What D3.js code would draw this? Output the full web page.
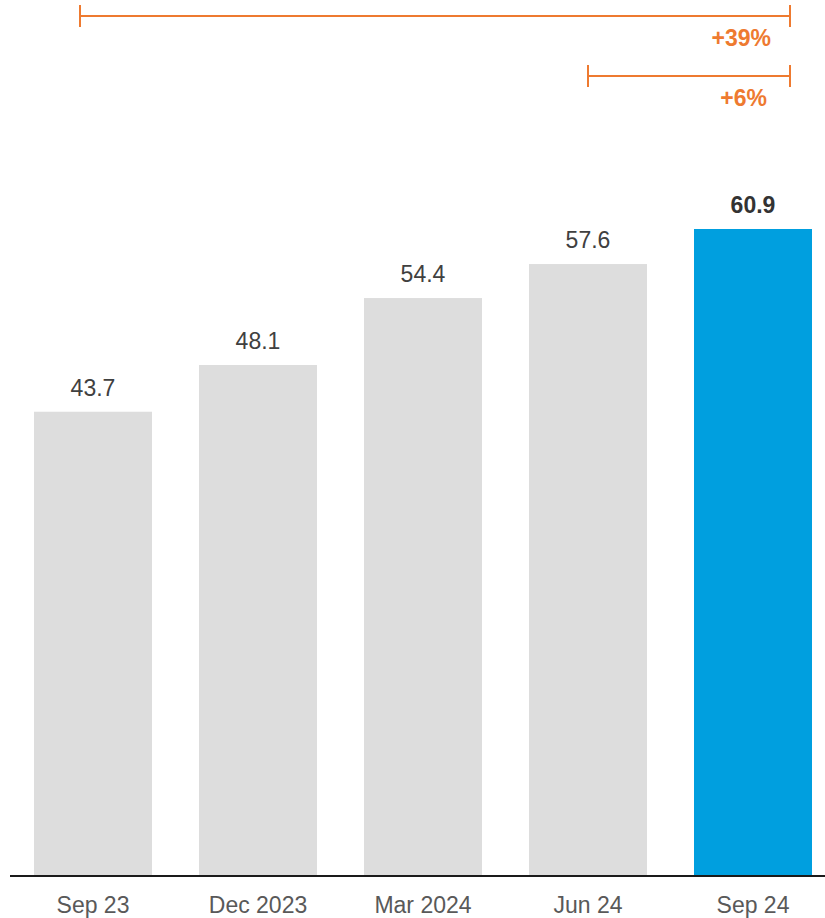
<!DOCTYPE html>
<html>
<head>
<meta charset="utf-8">
<script src="https://cdn.jsdelivr.net/npm/d3@7"></script>
<style>
  html, body { margin: 0; padding: 0; background: #fff; }
  svg { display: block; font-family: "Liberation Sans", Arial, sans-serif; }
</style>
</head>
<body>
<svg id="chart" width="825" height="918"></svg>
<script>
// Quarter labels and values
const categories = ["Sep 23", "Dec 2023", "Mar 2024", "Jun 24", "Sep 24"];
const values = [43.7, 48.1, 54.4, 57.6, 60.9];
const valueLabels = ["43.7", "48.1", "54.4", "57.6", "60.9"];
const highlightIndex = 4;

// Growth brackets: starting category and label
const growthFrom = ["Sep 23", "Jun 24"];
const growthLabels = ["+39%", "+6%"];

const svg = d3.select("#chart");
const W = 825;
const baseY = 876;
const orange = "#EE7A30";

// Bars are 118px wide on a 165px step
const x = d3.scaleBand()
  .domain(categories)
  .range([34, 34 + 165 * 5 - 47])
  .paddingInner(47 / 165)
  .paddingOuter(0);

const y = d3.scaleLinear().domain([0, 60.9]).range([baseY, 229]);

// Bars
svg.append("g").selectAll("rect")
  .data(values)
  .join("rect")
  .attr("x", (d, i) => x(categories[i]))
  .attr("y", d => y(d))
  .attr("width", x.bandwidth())
  .attr("height", d => baseY - y(d))
  .attr("fill", (d, i) => i === highlightIndex ? "#009FDF" : "#DDDDDD");

// Value labels
svg.append("g").selectAll("text")
  .data(values)
  .join("text")
  .attr("x", (d, i) => x(categories[i]) + x.bandwidth() / 2)
  .attr("y", d => y(d) - 16)
  .attr("text-anchor", "middle")
  .attr("font-size", 23)
  .attr("font-weight", (d, i) => i === highlightIndex ? "bold" : "normal")
  .attr("fill", (d, i) => i === highlightIndex ? "#333333" : "#404040")
  .text((d, i) => valueLabels[i]);

// Category axis
const axis = d3.axisBottom(x).tickSize(0).tickPadding(0);
const gAxis = svg.append("g").attr("transform", `translate(0,${baseY})`).call(axis);
gAxis.select(".domain").remove();
gAxis.selectAll("text")
  .attr("y", 37)
  .attr("dy", 0)
  .attr("font-size", 23)
  .attr("font-family", "Liberation Sans, Arial, sans-serif")
  .attr("fill", "#595959");
svg.append("line")
  .attr("x1", 10).attr("x2", W)
  .attr("y1", baseY).attr("y2", baseY)
  .attr("stroke", "#1a1a1a").attr("stroke-width", 2);

// Growth brackets
const bracketRight = 790;
const bracketLeft = [80, x("Jun 24") + x.bandwidth() / 2];
const bracketY = [16, 76];
growthFrom.forEach((c, i) => {
  const g = svg.append("g").attr("stroke", orange).attr("stroke-width", 2);
  const by = bracketY[i];
  g.append("line").attr("x1", bracketLeft[i]).attr("x2", bracketRight).attr("y1", by).attr("y2", by);
  g.append("line").attr("x1", bracketLeft[i]).attr("x2", bracketLeft[i]).attr("y1", by - 11).attr("y2", by + 11);
  g.append("line").attr("x1", bracketRight).attr("x2", bracketRight).attr("y1", by - 11).attr("y2", by + 11);
  svg.append("text")
    .attr("x", i === 0 ? 771 : 767)
    .attr("y", by + 30)
    .attr("text-anchor", "end")
    .attr("font-size", 23)
    .attr("font-weight", "bold")
    .attr("fill", orange)
    .text(growthLabels[i]);
});
</script>
</body>
</html>
